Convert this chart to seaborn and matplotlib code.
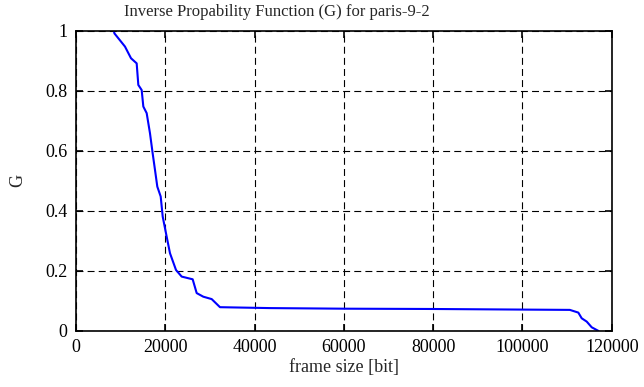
import matplotlib
matplotlib.use("Agg")
import matplotlib.pyplot as plt
import numpy as np
import pandas as pd
import seaborn as sns

# values
frame_size = [8500, 8600, 10970, 12320, 13590, 13960, 14710, 15080, 15830, 16570,
              17170, 17690, 18210, 18970, 19420, 20310, 21050, 22400, 23670, 26130,
              27030, 28510, 30390, 32250, 43450, 60000, 80000, 100000, 110600, 112500,
              113260, 114380, 115500, 116620, 117000]
g_vals = [1.0, 0.992, 0.948, 0.909, 0.892, 0.820, 0.803, 0.748, 0.726, 0.659,
          0.592, 0.537, 0.481, 0.448, 0.381, 0.314, 0.259, 0.203, 0.181, 0.172,
          0.126, 0.114, 0.106, 0.079, 0.076, 0.074, 0.073, 0.071, 0.070, 0.061,
          0.042, 0.031, 0.012, 0.003, 0.0]
x_ticks = [0, 20000, 40000, 60000, 80000, 100000, 120000]
y_ticks = [0, 0.2, 0.4, 0.6, 0.8, 1.0]
y_labels = ["0", "0.2", "0.4", "0.6", "0.8", "1"]

df = pd.DataFrame({"frame size [bit]": frame_size, "G": g_vals})

sns.set_theme(style="ticks")
plt.rcParams["font.family"] = ["Liberation Serif", "DejaVu Serif"]
plt.rcParams["font.size"] = 13
plt.rcParams["lines.scale_dashes"] = False

fig = plt.figure(figsize=(6.44, 3.87), dpi=100)
ax = fig.add_axes([0.118, 0.145, 0.832, 0.775])

sns.lineplot(data=df, x="frame size [bit]", y="G", ax=ax, color="#0000ff",
             linewidth=1.5, estimator=None, sort=False)

ax.set_xlim(0, 120000)
ax.set_ylim(0, 1)
ax.set_xticks(x_ticks)
ax.set_xticklabels([str(t) for t in x_ticks])
ax.set_yticks(y_ticks)
ax.set_yticklabels(y_labels)
ax.grid(True, color="black", linestyle=(0, (5, 3)), linewidth=0.8)
ax.tick_params(direction="in", length=5, width=1.2, top=True, right=True,
               colors="black", labelsize=13, pad=6)
for s in ax.spines.values():
    s.set_visible(True)
    s.set_color("black")
    s.set_linewidth(1.2)

ax.set_xlabel("frame size [bit]", fontsize=13, labelpad=2)
ax.set_ylabel("G", fontsize=13, labelpad=14)
fig.text(277 / 644, 1 - 12 / 387, "Inverse Propability Function (G) for paris-9-2",
         ha="center", va="center", fontsize=12)

fig.savefig("out.png", dpi=100)
